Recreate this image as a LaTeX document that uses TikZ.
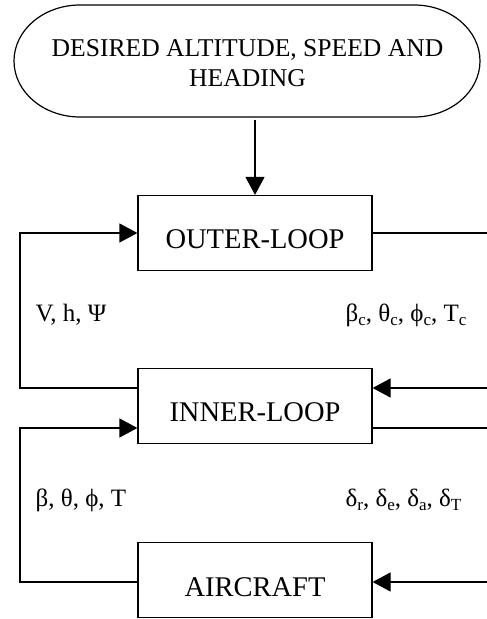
\documentclass[tikz,border=0pt]{standalone}
\usepackage{fontspec}
\setmainfont{Liberation Serif}
\usetikzlibrary{arrows.meta}
\newcommand\lsub[1]{\raisebox{-0.3ex}{\fontsize{17}{17}\selectfont #1}}
\begin{document}
\begin{tikzpicture}[x=1pt,y=1pt, line width=1.2pt,
  blk/.style={draw, minimum width=234pt, minimum height=75pt, inner sep=0pt,
    text height=40pt, text depth=8pt, font=\fontsize{28.5}{32}\selectfont},
  lbl/.style={anchor=base west, inner sep=0pt, font=\fontsize{25}{30}\selectfont},
  arr/.style={-{Triangle[length=18pt,width=19pt]}}]
\useasboundingbox (0,0) rectangle (487,619);
% terminal
\node[minimum width=467pt, minimum height=112pt, inner sep=0pt, align=center,
      font=\fontsize{25.6}{30}\selectfont] (term) at (247.5,556)
      {DESIRED ALTITUDE, SPEED AND\\HEADING};
\draw (80,614) -- (414,614) arc[start angle=90,end angle=-90,x radius=66,y radius=56]
      -- (80,502) arc[start angle=-90,end angle=-270,x radius=66,y radius=56] -- cycle;
% blocks
\node[blk] (outer) at (255,386) {OUTER-LOOP};
\node[blk] (inner) at (255,213) {INNER-LOOP};
\node[blk] (aircraft) at (255,39) {AIRCRAFT};
% coordinates
\coordinate (la) at (20,231);
\coordinate (lb) at (20,386);
\coordinate (lc) at (20,191);
\coordinate (ld) at (20,37);
\coordinate (ra) at (487,386);
\coordinate (rb) at (487,231);
\coordinate (rc) at (487,191);
\coordinate (rd) at (487,37);
% connectors
\draw[arr] (term.south -| outer.north) -- (outer.north);
\draw[arr] (inner.west |- la) -- (la) -- (lb) -- (outer.west |- lb);
\draw[arr] (aircraft.west |- ld) -- (ld) -- (lc) -- (inner.west |- lc);
\draw (outer.east |- ra) -- (ra);
\draw[arr] (rb) -- (inner.east |- rb);
\draw (inner.east |- rc) -- (rc);
\draw[arr] (rd) -- (aircraft.east |- rd);
% labels
\node[lbl] (l1) at (35,297) {V, h, Ψ};
\node[lbl] (l2) at (345,297) {β\lsub{c}, θ\lsub{c}, ϕ\lsub{c}, T\lsub{c}};
\node[lbl] (l3) at (35,112) {β, θ, ϕ, T};
\node[lbl] (l4) at (345,112) {δ\lsub{r}, δ\lsub{e}, δ\lsub{a}, δ\lsub{T}};
\end{tikzpicture}
\end{document}
